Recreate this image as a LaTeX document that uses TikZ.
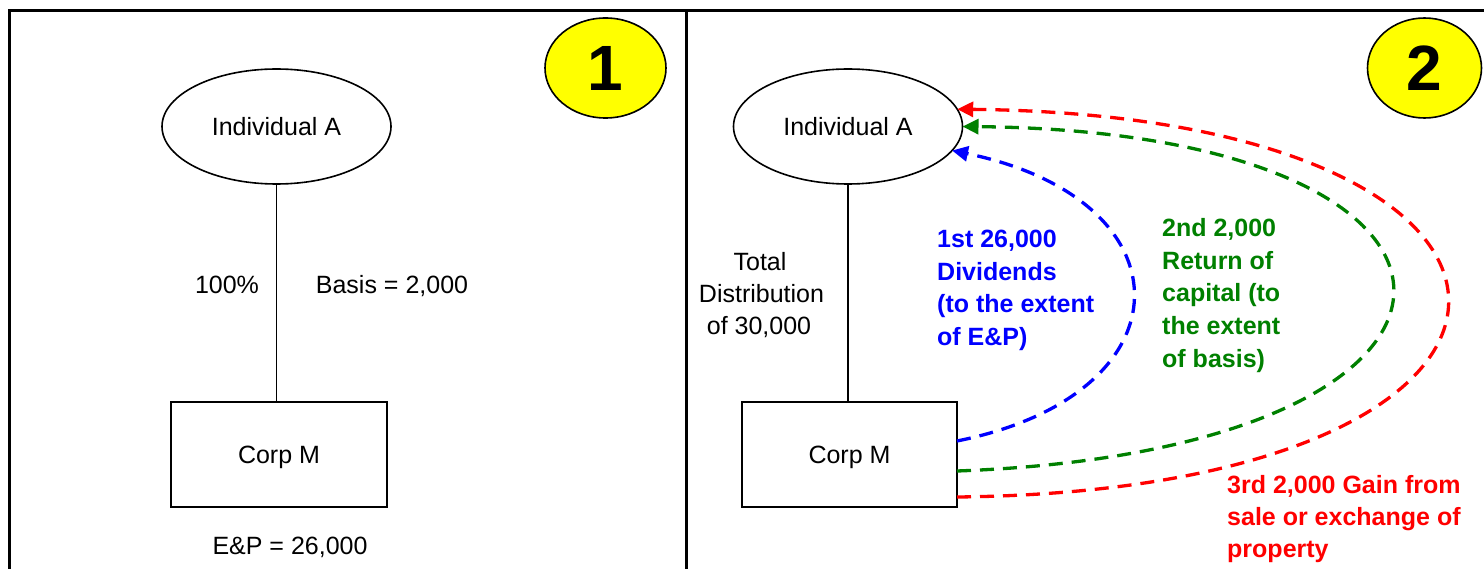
\documentclass[tikz,border=0pt]{standalone}
\usepackage{fontspec}
\setmainfont{Liberation Sans}
\usetikzlibrary{shapes.geometric,arrows.meta}
\definecolor{myyellow}{RGB}{255,255,0}
\definecolor{mygreen}{RGB}{0,128,0}
\definecolor{myblue}{RGB}{0,0,255}
\definecolor{myred}{RGB}{255,0,0}
\begin{document}
\begin{tikzpicture}[x=1pt,y=-1pt,
  frame/.style={line width=3pt},
  person/.style={draw, ellipse, line width=1.6pt, minimum width=229pt, minimum height=115pt,
    inner sep=0pt, outer sep=0pt, font=\fontsize{25}{30}\selectfont},
  corp/.style={draw, rectangle, line width=1.6pt, minimum height=105pt,
    inner sep=0pt, outer sep=0pt, text depth=0pt, font=\fontsize{25}{30}\selectfont},
  badge/.style={draw, ellipse, fill=myyellow, line width=1.6pt, minimum height=100pt,
    inner sep=0pt, font=\bfseries\fontsize{64}{64}\selectfont},
  lbl/.style={inner sep=0pt, anchor=base, font=\fontsize{25}{30}\selectfont},
  lbll/.style={inner sep=0pt, anchor=base west, font=\bfseries\fontsize{25}{30}\selectfont},
  flow/.style={line width=3.3pt, dash pattern=on 14pt off 9pt, -{Triangle[length=16pt,width=15pt]}},
  tie/.style={line width=1.5pt}
]
\useasboundingbox (0,0) rectangle (1484,569);
% frame
\draw[frame] (8,10.8) -- (1484,10.8);
\draw[frame] (9.5,9.3) -- (9.5,569);
\draw[frame] (686.5,9.3) -- (686.5,569);

% panel 1
\node[badge, minimum width=121pt] (b1) at (605.5,68) {1};
\node[person] (indL) at (276.5,126.5) {Individual A};
\node[corp, minimum width=216pt] (corpL) at (279,454.5) {Corp M};
\draw[tie] (indL.south) -- (indL.south |- corpL.north);
\node[lbl] (pct) at (227,294) {100\%};
\node[lbl] (basis) at (392,294) {Basis = 2,000};
\node[lbl] (ep) at (290,554) {E\&P = 26,000};

% panel 2
\node[badge, minimum width=114pt] (b2) at (1424.5,68) {2};
\node[person] (indR) at (848,126.5) {Individual A};
\node[corp, minimum width=215pt] (corpR) at (849.5,454.5) {Corp M};
\draw[tie] (indR.south) -- (indR.south |- corpR.north);
\node[lbl] (tot1) at (760,271) {Total};
\node[lbl] (tot2) at (761.5,303) {Distribution};
\node[lbl] (tot3) at (759,335) {of 30,000};

\node[lbll, myblue] (bl1) at (937,248) {1st 26,000};
\node[lbll, myblue] (bl2) at (937,280.5) {Dividends};
\node[lbll, myblue] (bl3) at (937,313) {(to the extent};
\node[lbll, myblue] (bl4) at (937,345.5) {of E\&P)};

\node[lbll, mygreen] (gr1) at (1162,237) {2nd 2,000};
\node[lbll, mygreen] (gr2) at (1162,269.5) {Return of};
\node[lbll, mygreen] (gr3) at (1162,302) {capital (to};
\node[lbll, mygreen] (gr4) at (1162,334.5) {the extent};
\node[lbll, mygreen] (gr5) at (1162,367) {of basis)};

\node[lbll, myred] (rd1) at (1227,493) {3rd 2,000 Gain from};
\node[lbll, myred] (rd2) at (1227,525) {sale or exchange of};
\node[lbll, myred] (rd3) at (1227,557) {property};

% flows
\draw[flow, myblue] ([yshift=13.5pt]corpR.east) .. controls (1192,394) and (1192,200) .. (indR.-13.5);
\draw[flow, mygreen] ([yshift=-16.5pt]corpR.east) .. controls (1536,450) and (1536,132) .. (indR.east);
\draw[flow, myred] ([yshift=-42.5pt]corpR.east) .. controls (1610,490) and (1610,116) .. (indR.9.7);
\end{tikzpicture}
\end{document}
